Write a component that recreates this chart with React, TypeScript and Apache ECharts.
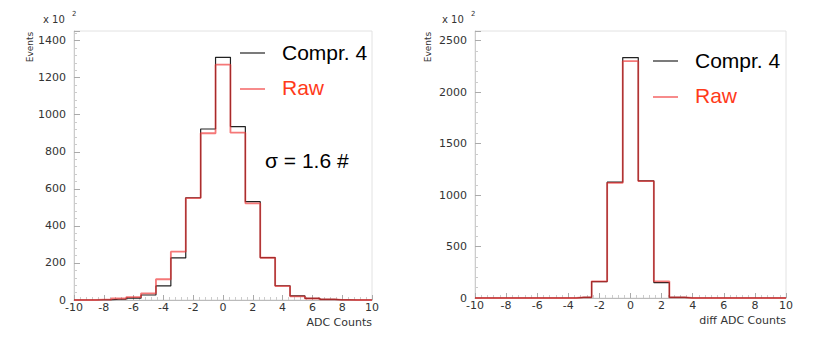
import React, { useEffect, useRef } from "react";
import * as echarts from "echarts";

const bins = [-10, -9, -8, -7, -6, -5, -4, -3, -2, -1, 0, 1, 2, 3, 4, 5, 6, 7, 8, 9, 10];
const leftCompr = [0, 0, 1, 4, 10, 27, 76, 227, 552, 923, 1310, 936, 531, 229, 77, 22, 9, 3, 1, 0, 0];
const leftRaw = [0, 0, 2, 8, 15, 36, 112, 261, 550, 900, 1270, 903, 522, 228, 75, 20, 8, 3, 1, 0, 0];
const rightCompr = [0, 0, 0, 0, 0, 0, 0, 6, 160, 1125, 2336, 1138, 150, 6, 0, 0, 0, 0, 0, 0, 0];
const rightRaw = [0, 0, 0, 0, 0, 0, 0, 6, 162, 1118, 2302, 1135, 162, 6, 0, 0, 0, 0, 0, 0, 0];
const legendNames = ["Compr. 4", "Raw"];
const xNames = ["ADC Counts", "diff ADC Counts"];
const sigmaText = "σ = 1.6 #";

const FONT = "DejaVu Sans";
const BIG = "Liberation Sans";

function xAxis(gi: number, name: string) {
  return {
    type: "value",
    gridIndex: gi,
    min: -10,
    max: 10,
    interval: 2,
    name,
    nameLocation: "end",
    nameGap: 0,
    nameTextStyle: { fontFamily: FONT, fontSize: 11, color: "#333", align: "right", verticalAlign: "top", padding: [17, 0, 0, 0] },
    axisLine: { show: true, onZero: false, lineStyle: { color: "#bbb", width: 1 } },
    axisTick: { show: true, inside: true, length: 5, lineStyle: { color: "#aaa" } },
    minorTick: { show: true, splitNumber: 5, length: 3, lineStyle: { color: "#ccc" } },
    splitLine: { show: false },
    axisLabel: { fontFamily: FONT, fontSize: 11, color: "#333", margin: 2, formatter: (v: number) => String(v) },
  };
}

function yAxis(gi: number, max: number, interval: number) {
  return {
    type: "value",
    gridIndex: gi,
    min: 0,
    max,
    interval,
    axisLine: { show: true, onZero: false, lineStyle: { color: "#ccc", width: 1 } },
    axisTick: { show: true, inside: true, length: 6, lineStyle: { color: "#aaa" } },
    minorTick: { show: true, splitNumber: 5, length: 3, lineStyle: { color: "#ccc" } },
    splitLine: { show: false },
    axisLabel: { fontFamily: FONT, fontSize: 11, color: "#333", margin: 8, showMaxLabel: false, formatter: (v: number) => String(v) },
  };
}

function pairs(vals: number[]) {
  return bins.map((b, i) => [b, vals[i]]);
}

function series(gi: number, vals: number[], color: string, width: number, opacity: number, z: number) {
  return {
    type: "line",
    xAxisIndex: gi,
    yAxisIndex: gi,
    step: "middle",
    data: pairs(vals),
    symbol: "none",
    lineStyle: { color, width, opacity },
    z,
  };
}

export default function App() {
  const ref = useRef<HTMLDivElement>(null);
  useEffect(() => {
    if (!ref.current) return;
    const chart = echarts.init(ref.current, undefined, { renderer: "svg" });
    const legendGraphics = (x0: number, yBlack: number, yRed: number) => [
      { type: "line", shape: { x1: x0, y1: yBlack, x2: x0 + 25, y2: yBlack }, style: { stroke: "#222", lineWidth: 1.2 } },
      { type: "line", shape: { x1: x0, y1: yRed, x2: x0 + 25, y2: yRed }, style: { stroke: "#f03030", lineWidth: 1.5, opacity: 0.75 } },
      { type: "text", x: x0 + 42, y: yBlack - 1, style: { text: legendNames[0], fontFamily: BIG, fontSize: 21, fill: "#000", verticalAlign: "middle" } },
      { type: "text", x: x0 + 42, y: yRed - 2, style: { text: legendNames[1], fontFamily: BIG, fontSize: 21, fill: "#ff3a1a", verticalAlign: "middle" } },
    ];
    const yHeader = (xEv: number, xTimes: number) => [
      { type: "text", x: xEv, y: 47, rotation: Math.PI / 2, style: { text: "Events", fontFamily: FONT, fontSize: 9, fill: "#333", align: "center", verticalAlign: "middle" } },
      { type: "text", x: xTimes, y: 19, style: { text: "x 10", fontFamily: FONT, fontSize: 10, fill: "#333", verticalAlign: "middle" } },
      { type: "text", x: xTimes + 29, y: 14, style: { text: "2", fontFamily: FONT, fontSize: 7, fill: "#333", verticalAlign: "middle" } },
    ];
    chart.setOption({
      animation: false,
      backgroundColor: "#fff",
      grid: [
        { left: 74, top: 31, width: 298, height: 269, show: true, borderColor: "#e2e2e2", borderWidth: 1 },
        { left: 475, top: 31, width: 311, height: 267, show: true, borderColor: "#e2e2e2", borderWidth: 1 },
      ],
      xAxis: [xAxis(0, xNames[0]), xAxis(1, xNames[1])],
      yAxis: [yAxis(0, 1452, 200), yAxis(1, 2594, 500)],
      series: [
        series(0, leftCompr, "#222", 1.2, 1, 2),
        series(0, leftRaw, "#f03030", 1.8, 0.65, 3),
        series(1, rightCompr, "#222", 1.2, 1, 2),
        series(1, rightRaw, "#f03030", 1.8, 0.65, 3),
      ],
      graphic: [
        ...yHeader(30, 43),
        ...yHeader(428, 442),
        ...legendGraphics(240, 53, 89),
        ...legendGraphics(653, 61, 97),
        { type: "text", x: 265, y: 160, style: { text: sigmaText, fontFamily: BIG, fontSize: 21, fill: "#000", verticalAlign: "middle" } },
      ],
    });
    return () => chart.dispose();
  }, []);
  return <div ref={ref} style={{ width: 817, height: 341, position: "absolute", left: 0, top: 0 }} />;
}
